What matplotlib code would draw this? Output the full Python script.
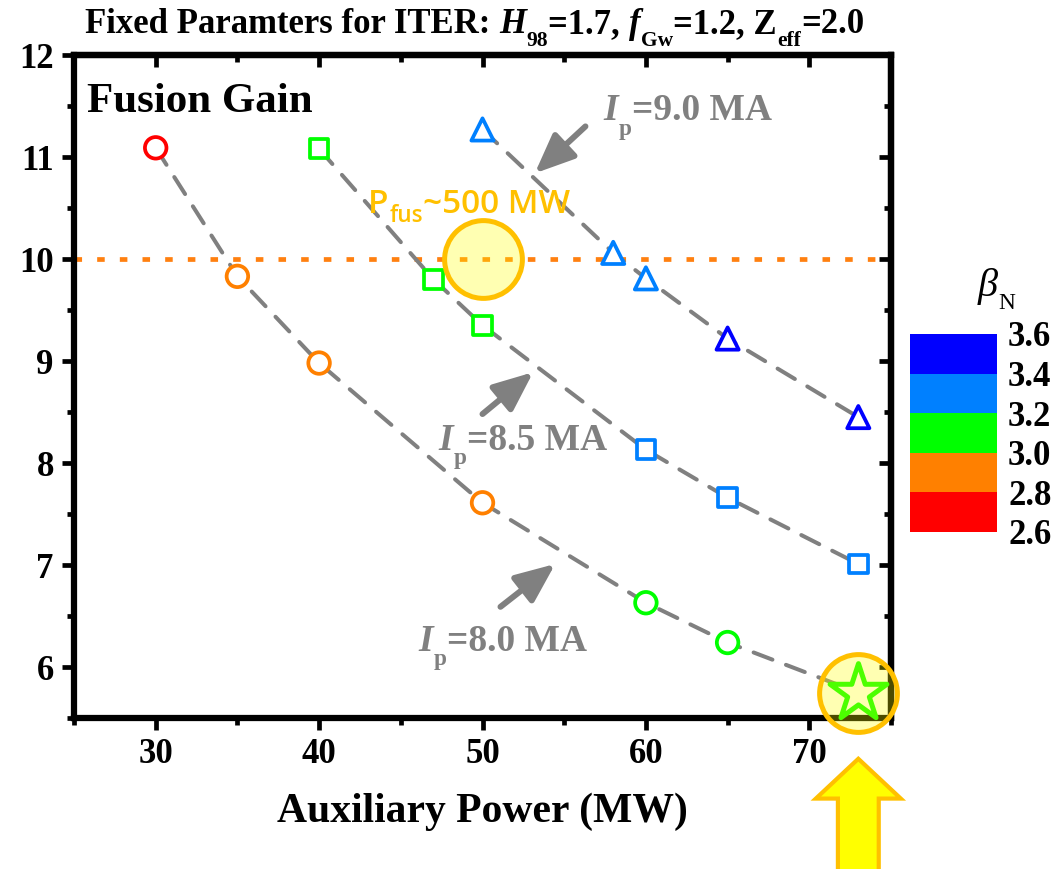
import matplotlib
matplotlib.use("Agg")
import matplotlib.pyplot as plt
import numpy as np
from matplotlib.colors import ListedColormap, BoundaryNorm
from matplotlib.cm import ScalarMappable
from matplotlib.patches import FancyArrow

plt.rcParams['font.family'] = ['Liberation Serif', 'DejaVu Sans']
plt.rcParams['font.weight'] = 'bold'

# auxiliary power (MW), fusion gain Q and beta_N for each plasma current
p_aux_8p0 = [30, 35, 40, 50, 60, 65, 73]
gain_8p0 = [11.09, 9.83, 8.98, 7.61, 6.63, 6.24, 5.75]
beta_8p0 = [2.7, 2.9, 2.9, 2.9, 3.1, 3.1, 3.1]

p_aux_8p5 = [40, 47, 50, 60, 65, 73]
gain_8p5 = [11.08, 9.80, 9.35, 8.13, 7.66, 7.01]
beta_8p5 = [3.1, 3.1, 3.1, 3.3, 3.3, 3.3]

p_aux_9p0 = [50, 58, 60, 65, 73]
gain_9p0 = [11.27, 10.06, 9.81, 9.22, 8.45]
beta_9p0 = [3.3, 3.3, 3.3, 3.5, 3.5]

beta_bounds = [2.6, 2.8, 3.0, 3.2, 3.4, 3.6]
beta_colors = ['#FF0000', '#FF8000', '#00FF00', '#0080FF', '#0000FF']

q_target = 10.0           # ~500 MW fusion power
p_target = 50             # operating point on the Q=10 line
p_chosen = 73             # selected scenario (star)

GRAY = '#808080'
GOLD = '#FFC000'
cmap = ListedColormap(beta_colors)
norm = BoundaryNorm(beta_bounds, cmap.N)

fig = plt.figure(figsize=(10.58, 8.69), dpi=100)
ax = fig.add_axes([74 / 1058, 1 - 718 / 869, 817 / 1058, 663 / 869])


def chain_text(x, y, parts, size, transform=None, sub_scale=0.62, sub_drop=0.31, **kw):
    """Write text pieces one after another; parts = [(string, is_sub, is_italic)]."""
    s, _, it = parts[0]
    base = ax.text(x, y, s, fontsize=size, style='italic' if it else 'normal',
                   transform=transform or ax.transData, ha='left', va='baseline', **kw)
    prev = base
    for s, sub, it in parts[1:]:
        prev = ax.annotate(s, xy=(1, 0), xycoords=(prev, base),
                           xytext=(0.5 if sub else 0, -sub_drop * size if sub else 0),
                           textcoords='offset points',
                           fontsize=size * sub_scale if sub else size,
                           style='italic' if it else 'normal',
                           ha='left', va='bottom', annotation_clip=False, **kw)


dash = dict(color=GRAY, lw=2.9, ls=(0, (5, 3.6)), dash_capstyle='round', zorder=2)
ax.plot(p_aux_8p0, gain_8p0, **dash)
ax.plot(p_aux_8p5, gain_8p5, **dash)
ax.plot(p_aux_9p0, gain_9p0, **dash)

ax.axhline(q_target, color='#FF8010', lw=3.4, ls=(0, (1.6, 3.2)), zorder=1.5)


def markers(x, y, beta, marker, size):
    ax.scatter(x, y, s=size ** 2, marker=marker, facecolors='white',
               edgecolors=cmap(norm(beta)), linewidths=2.7, zorder=4)


markers(p_aux_8p0[:-1], gain_8p0[:-1], beta_8p0[:-1], 'o', 15.5)
markers(p_aux_8p5, gain_8p5, beta_8p5, 's', 13.5)
markers(p_aux_9p0, gain_9p0, beta_9p0, '^', 16)
ax.scatter(p_aux_8p0[-1:], gain_8p0[-1:], s=43 ** 2, marker='*', facecolors='white',
           edgecolors=cmap(norm(beta_8p0[-1:])), linewidths=3.6, zorder=4, clip_on=False)

# translucent highlight circles
hl = dict(marker='o', mfc=(1, 1, 0, 0.3), mec=GOLD, mew=3.6, ls='none', zorder=6, clip_on=False)
ax.plot([p_target], [q_target], ms=56, **hl)
ax.plot(p_aux_8p0[-1:], gain_8p0[-1:], ms=56, **hl)

chain_text(43.0, 10.45, [('P', False, False), ('fus', True, False), ('~500 MW', False, False)],
           24, sub_scale=0.68, sub_drop=0.2, color=GOLD, family='Open Sans',
           weight='semibold', zorder=7)

# current labels with arrows
arr = dict(arrowstyle='-|>,head_length=0.75,head_width=0.32', color=GRAY, lw=4.3,
           mutation_scale=32, shrinkA=0, shrinkB=0)
ax.annotate('', xy=(53.2, 10.84), xytext=(56.3, 11.30), arrowprops=arr, zorder=5)
chain_text(57.4, 11.36, [('I', False, True), ('p', True, False), ('=9.0 MA', False, False)], 27, color=GRAY)
ax.annotate('', xy=(53.1, 8.89), xytext=(50.0, 8.48), arrowprops=arr, zorder=5)
chain_text(47.3, 8.13, [('I', False, True), ('p', True, False), ('=8.5 MA', False, False)], 27, color=GRAY)
ax.annotate('', xy=(54.45, 7.01), xytext=(51.1, 6.59), arrowprops=arr, zorder=5)
chain_text(46.1, 6.16, [('I', False, True), ('p', True, False), ('=8.0 MA', False, False)], 27, color=GRAY)

ax.text(25.78, 11.44, 'Fusion Gain', fontsize=31, ha='left', va='baseline')

# selected scenario marker below the axis
ax.add_patch(FancyArrow(p_chosen, 3.95, 0, 1.15, width=2.5, head_width=5.2,
                        head_length=0.39, length_includes_head=True,
                        fc='#FFFF00', ec=GOLD, lw=3, clip_on=False, zorder=6))

ax.set_xlim(25, 75)
ax.set_ylim(5.5, 12)
ax.set_xticks([30, 40, 50, 60, 70])
ax.set_xticks(np.arange(25, 76, 5), minor=True)
ax.set_yticks(np.arange(6, 13, 1))
ax.set_yticks(np.arange(5.5, 12.1, 0.5), minor=True)
ax.tick_params(which='both', direction='out', width=3.4, labelsize=25, pad=6)
ax.tick_params(which='major', length=8.5)
ax.tick_params(which='minor', length=5)
for s in ax.spines.values():
    s.set_linewidth(4.5)

top = ax.secondary_xaxis('top')
top.set_xticks([30, 40, 50, 60, 70])
top.set_xticks(np.arange(25, 76, 5), minor=True)
right = ax.secondary_yaxis('right')
right.set_yticks(np.arange(6, 13, 1))
right.set_yticks(np.arange(5.5, 12.1, 0.5), minor=True)
for sec in (top, right):
    sec.tick_params(which='both', direction='in', width=3.4, labeltop=False, labelright=False)
    sec.tick_params(which='major', length=8.5)
    sec.tick_params(which='minor', length=5)
    for s in sec.spines.values():
        s.set_linewidth(4.5)

ax.set_xlabel('Auxiliary Power (MW)', fontsize=30, fontweight='bold')
ax.xaxis.set_label_coords(0.5, -0.113)

chain_text(85 / 1058, 1 - 33 / 869,
           [('Fixed Paramters for ITER: ', False, False), ('H', False, True), ('98', True, False),
            ('=1.7, ', False, False), ('f', False, True), ('Gw', True, False),
            ('=1.2, Z', False, False), ('eff', True, False), ('=2.0', False, False)],
           25, transform=fig.transFigure, sub_drop=0.28)

# beta_N colour scale
cax = fig.add_axes([910 / 1058, 1 - 532 / 869, 87 / 1058, 198 / 869])
cb = fig.colorbar(ScalarMappable(norm=norm, cmap=cmap), cax=cax, ticks=beta_bounds)
cb.outline.set_visible(False)
cb.ax.tick_params(length=0, labelsize=25, pad=8)
cb.ax.set_yticklabels([f'{b:.1f}' for b in beta_bounds])
chain_text(978 / 1058, 1 - 296 / 869, [('β', False, True), ('N', True, False)], 29,
           transform=fig.transFigure, sub_scale=0.58, sub_drop=0.22, weight='normal')

fig.savefig('out.png', dpi=100)
